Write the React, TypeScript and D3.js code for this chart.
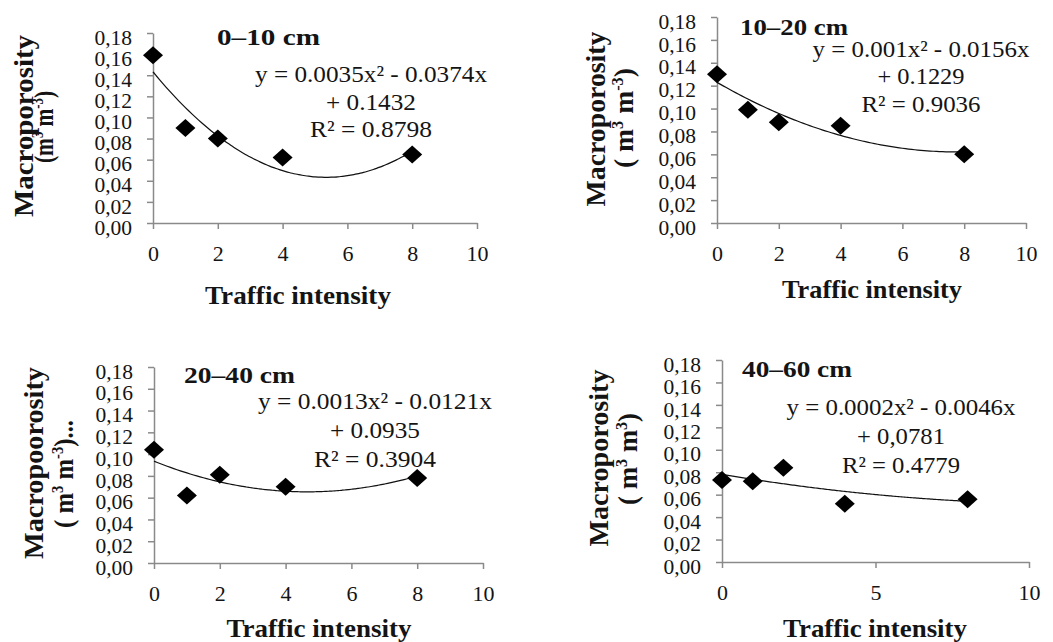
import * as d3 from "d3";
import { useEffect, useRef } from "react";

// values
const depths = ["0–10 cm", "10–20 cm", "20–40 cm", "40–60 cm"];
const traffic = [0, 1, 2, 4, 8];
const macro0to10 = [0.159, 0.09, 0.08, 0.062, 0.065];
const macro10to20 = [0.13, 0.099, 0.088, 0.085, 0.06];
const macro20to40 = [0.104, 0.062, 0.081, 0.07, 0.078];
const macro40to60 = [0.073, 0.072, 0.084, 0.052, 0.056];
const series = [macro0to10, macro10to20, macro20to40, macro40to60];

// quadratic trendlines as printed on the chart
const fitA = [0.0035, 0.001, 0.0013, 0.0002];
const fitB = [-0.0374, -0.0156, -0.0121, -0.0046];
const fitC = [0.1432, 0.1229, 0.0935, 0.0781];
const eqLine1 = ["y = 0.0035x² - 0.0374x", "y = 0.001x² - 0.0156x", "y = 0.0013x² - 0.0121x", "y = 0.0002x² - 0.0046x"];
const eqLine2 = ["+ 0.1432", "+ 0.1229", "+ 0.0935", "+ 0,0781"];
const r2Labels = ["R² = 0.8798", "R² = 0.9036", "R² = 0.3904", "R² = 0.4779"];

const yTicks = [0, 0.02, 0.04, 0.06, 0.08, 0.1, 0.12, 0.14, 0.16, 0.18];
const xTicksEven = [0, 2, 4, 6, 8, 10];
const xTicksFive = [0, 5, 10];
const xTickSets = [xTicksEven, xTicksEven, xTicksEven, xTicksFive];
const xTitle = "Traffic intensity";
const yTitles = ["Macroporosity", "Macroporosity", "Macropoorosity", "Macroporosity"];
// [text, superscript?]
const yUnits: [string, boolean][][] = [
  [["(m", false], ["3", true], [" m", false], ["-3", true], [")", false]],
  [["( m", false], ["3", true], [" m", false], ["-3", true], [")", false]],
  [["( m", false], ["3", true], [" m", false], ["-3", true], [")...", false]],
  [["( m", false], ["3", true], [" m", false], ["3", true], [")", false]],
];

// where each small chart sits on the page, and how wide its texts run
const layout = [
  {
    x0: 153, x1: 477, yTop: 33, yBot: 223,
    titleX: 217, titleY: 45, titleW: 103,
    eqX: 371, eqY: [82, 110, 137], eqW: [232, 90, 122],
    xtX: 298, xtY: 304, xtW: 186,
    yl1X: 33, yl1Y: 126, yl1W: 182, yl2X: 53, yl2Y: 127, yl2W: 72,
  },
  {
    x0: 717, x1: 1026, yTop: 17, yBot: 223,
    titleX: 740, titleY: 35, titleW: 108,
    eqX: 921, eqY: [57, 84, 112], eqW: [217, 87, 119],
    xtX: 872, xtY: 298, xtW: 180,
    yl1X: 605, yl1Y: 119, yl1W: 175, yl2X: 633, yl2Y: 118, yl2W: 100,
  },
  {
    x0: 154, x1: 483, yTop: 367, yBot: 563,
    titleX: 184, titleY: 383, titleW: 111,
    eqX: 375, eqY: [409, 438, 467], eqW: [234, 90, 122],
    xtX: 319, xtY: 637, xtW: 185,
    yl1X: 43, yl1Y: 463, yl1W: 192, yl2X: 73, yl2Y: 474, yl2W: 108,
  },
  {
    x0: 722, x1: 1029, yTop: 360, yBot: 562,
    titleX: 742, titleY: 377, titleW: 110,
    eqX: 901, eqY: [415, 444, 473], eqW: [229, 88, 118],
    xtX: 875, xtY: 637, xtW: 184,
    yl1X: 608, yl1Y: 458, yl1W: 177, yl2X: 637, yl2Y: 459, yl2W: 92,
  },
];

const FONT = "Liberation Serif, Tinos, Times New Roman, serif";
const AXIS = "#8a8a8a";
const INK = "#141414";

const App = () => {
  const ref = useRef<SVGSVGElement>(null);

  useEffect(() => {
    const svg = d3.select(ref.current);
    svg.selectAll("*").remove();
    svg.append("rect").attr("width", 1053).attr("height", 642).attr("fill", "#fff");

    layout.forEach((L, i) => {
      const g = svg.append("g").attr("font-family", FONT).attr("fill", INK);
      const x = d3.scaleLinear().domain([0, 10]).range([L.x0, L.x1]);
      const y = d3.scaleLinear().domain([0, 0.18]).range([L.yBot, L.yTop]);

      // y axis
      const ya = g.append("g")
        .attr("transform", `translate(${L.x0},0)`)
        .call(
          d3.axisLeft(y).tickValues(yTicks).tickSize(6).tickSizeOuter(0).tickPadding(15)
            .tickFormat((d) => d3.format(".2f")(d as number).replace(".", ","))
        )
        .attr("font-family", FONT)
        .attr("font-size", 21.5);
      ya.select(".domain").attr("stroke", AXIS).attr("stroke-width", 1.5);
      ya.selectAll(".tick line").attr("stroke", AXIS).attr("stroke-width", 1.5);
      ya.selectAll(".tick text").attr("dy", "0.52em").attr("fill", INK);

      // x axis
      const xa = g.append("g")
        .attr("transform", `translate(0,${L.yBot})`)
        .call(d3.axisBottom(x).tickValues(xTickSets[i]).tickSize(6).tickSizeOuter(0).tickFormat(d3.format("d")))
        .attr("font-family", FONT)
        .attr("font-size", 22);
      xa.select(".domain").attr("stroke", AXIS).attr("stroke-width", 1.5);
      xa.selectAll(".tick line").attr("stroke", AXIS).attr("stroke-width", 1.5);
      xa.selectAll(".tick text").attr("y", 38).attr("dy", null).attr("fill", INK);

      // trendline
      const fx = (t: number) => fitA[i] * t * t + fitB[i] * t + fitC[i];
      const line = d3.line<number>().x((t) => x(t)).y((t) => y(fx(t))).curve(d3.curveBasis);
      g.append("path")
        .attr("d", line(d3.range(0, 8.001, 0.1)))
        .attr("fill", "none")
        .attr("stroke", "#111")
        .attr("stroke-width", 1.2);

      // points
      g.selectAll("path.pt")
        .data(traffic.map((t, k) => [t, series[i][k]]))
        .enter()
        .append("path")
        .attr("class", "pt")
        .attr("d", "M0,-9L10,0L0,9L-10,0Z")
        .attr("transform", (d) => `translate(${x(d[0])},${y(d[1])})`)
        .attr("fill", "#000");

      // panel title
      g.append("text")
        .attr("x", L.titleX)
        .attr("y", L.titleY)
        .attr("font-weight", "bold")
        .attr("font-size", 23)
        .attr("textLength", L.titleW)
        .attr("lengthAdjust", "spacingAndGlyphs")
        .text(depths[i]);

      // equation
      [eqLine1[i], eqLine2[i], r2Labels[i]].forEach((s, k) => {
        g.append("text")
          .attr("x", L.eqX)
          .attr("y", L.eqY[k])
          .attr("text-anchor", "middle")
          .attr("font-size", 23)
          .attr("textLength", L.eqW[k])
          .attr("lengthAdjust", "spacingAndGlyphs")
          .text(s);
      });

      // axis titles
      g.append("text")
        .attr("x", L.xtX)
        .attr("y", L.xtY)
        .attr("text-anchor", "middle")
        .attr("font-weight", "bold")
        .attr("font-size", 24.5)
        .attr("textLength", L.xtW)
        .attr("lengthAdjust", "spacingAndGlyphs")
        .text(xTitle);

      g.append("text")
        .attr("transform", `translate(${L.yl1X},${L.yl1Y}) rotate(-90)`)
        .attr("text-anchor", "middle")
        .attr("font-weight", "bold")
        .attr("font-size", 27)
        .attr("textLength", L.yl1W)
        .attr("lengthAdjust", "spacingAndGlyphs")
        .text(yTitles[i]);

      const u = g.append("text")
        .attr("transform", `translate(${L.yl2X},${L.yl2Y}) rotate(-90)`)
        .attr("text-anchor", "middle")
        .attr("font-weight", "bold")
        .attr("font-size", 27)
        .attr("textLength", L.yl2W)
        .attr("lengthAdjust", "spacingAndGlyphs");
      let raised = false;
      yUnits[i].forEach(([s, sup]) => {
        const dy = sup && !raised ? -10 : !sup && raised ? 10 : 0;
        raised = sup;
        u.append("tspan")
          .attr("dy", dy)
          .attr("font-size", sup ? 16 : 27)
          .text(s);
      });
    });
  }, []);

  return (
    <svg
      ref={ref}
      width={1053}
      height={642}
      style={{ position: "absolute", left: 0, top: 0, background: "#fff" }}
    />
  );
};

export default App;
